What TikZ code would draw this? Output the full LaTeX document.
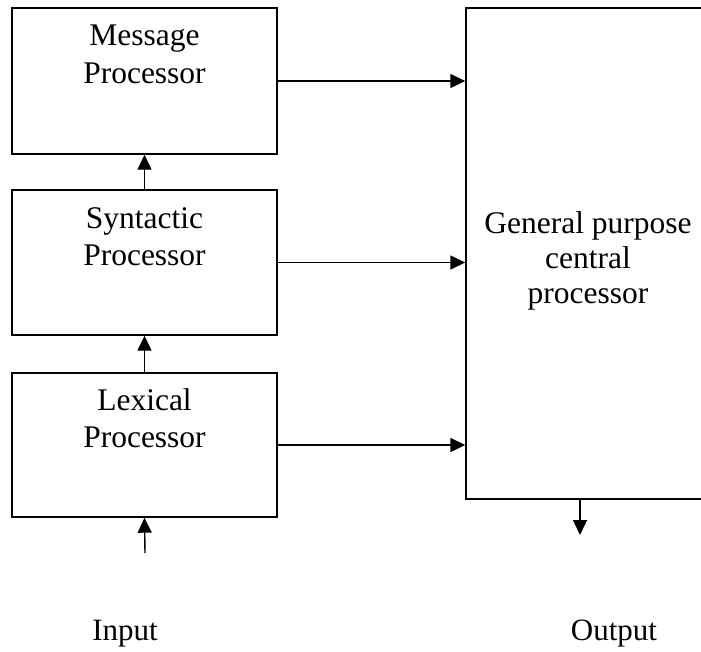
\documentclass[tikz,border=0pt]{standalone}
\usepackage{fontspec}
\setmainfont{Liberation Serif}
\usetikzlibrary{arrows.meta}
\tikzset{
  box/.style={draw, line width=1.4pt, inner sep=0pt, minimum width=265pt},
  lbl/.style={inner sep=0pt, align=center, anchor=north, font=\fontsize{31.5}{37.5}\selectfont},
  gplbl/.style={lbl, font=\fontsize{31.5}{35}\selectfont},
  iolbl/.style={inner sep=0pt, anchor=base, font=\fontsize{31}{37}\selectfont},
  conn/.style={line width=1.4pt, -{Triangle[length=15pt,width=14pt]}}
}
\begin{document}
\begin{tikzpicture}[x=1pt,y=-1pt]
\useasboundingbox (0,0) rectangle (701,651);
\path[clip] (0,0) rectangle (701,651);
\node[box, minimum height=146pt] (msg) at (144.5,81) {};
\node[box, minimum height=145pt] (syn) at (144.5,262.5) {};
\node[box, minimum height=144pt] (lex) at (144.5,445) {};
\node[box, minimum width=246pt, minimum height=491pt] (gp) at (589,253.5) {};
\node[lbl] (msgt) at (144.5,25) {Message\\Processor};
\node[lbl] (synt) at (144.5,207) {Syntactic\\Processor};
\node[lbl] (lext) at (144.5,388) {Lexical\\Processor};
\node[gplbl] (gpt) at (588,211) {General purpose\\central\\processor};
\node[iolbl] (inp) at (125,640) {Input};
\node[iolbl] (outp) at (614,640) {Output};
\coordinate (intail) at (145,553);
\coordinate (outtip) at (580,535);
\draw[conn] (msg.east) -- (gp.west |- msg.east);
\draw[conn] (syn.east) -- (gp.west |- syn.east);
\draw[conn] (lex.east) -- (gp.west |- lex.east);
\draw[conn] (syn.north) -- (msg.south);
\draw[conn] (lex.north) -- (syn.south);
\draw[conn] (intail) -- (lex.south);
\draw[conn] (gp.south -| outtip) -- (outtip);
\end{tikzpicture}
\end{document}
